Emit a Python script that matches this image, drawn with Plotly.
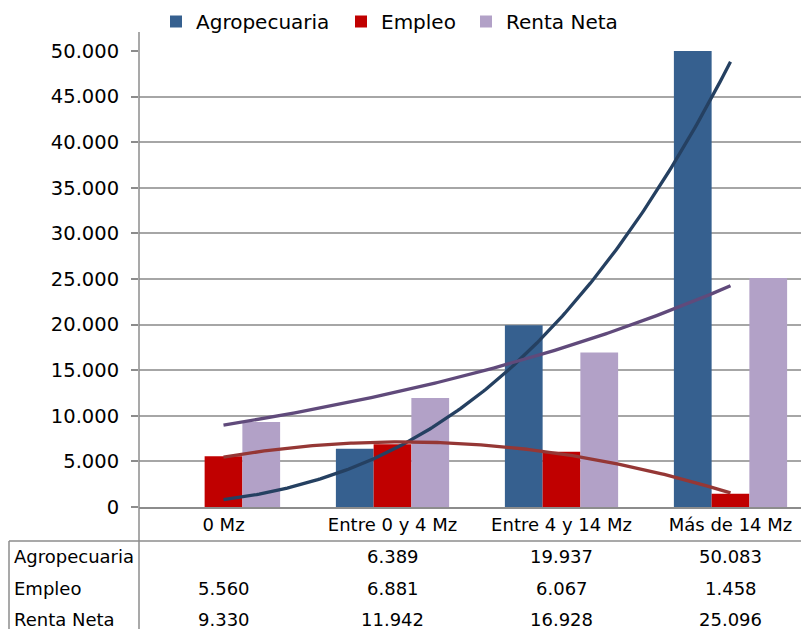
import numpy as np
import plotly.graph_objects as go

# Datos por tamaño de finca
categorias = ["0 Mz", "Entre 0 y 4 Mz", "Entre 4 y 14 Mz", "Más de 14 Mz"]
agropecuaria = [None, 6389, 19937, 50083]
empleo = [5560, 6881, 6067, 1458]
renta_neta = [9330, 11942, 16928, 25096]

series = [
    ("Agropecuaria", agropecuaria, "#36608F"),
    ("Empleo", empleo, "#C00000"),
    ("Renta Neta", renta_neta, "#B2A1C7"),
]

W, H = 801, 629
PL, PR, PT, PB = 139, 801, 51, 507   # plot area in pixels


def px_x(p):
    return (p - PL) / (PR - PL)


def px_y(p):
    return (PB - p) / (PB - PT)


pos = np.arange(len(categorias))
fig = go.Figure()

legend_ids = ["legend", "legend2", "legend3"]
for (name, vals, color), lid in zip(series, legend_ids):
    fig.add_trace(go.Bar(
        x=pos, y=[np.nan if v is None else v for v in vals], name=name,
        marker=dict(color=color, line=dict(width=0)), legend=lid,
    ))

# Trend lines (Excel style: power, polynomial order 2, exponential), x = 1..4
xs = np.linspace(1, 4, 200)

xa = np.array([i + 1 for i, v in enumerate(agropecuaria) if v is not None], float)
ya = np.array([v for v in agropecuaria if v is not None], float)
b, a = np.polyfit(np.log(xa), np.log(ya), 1)
trend_agro = np.exp(a) * xs ** b

ce = np.polyfit(pos + 1, np.array(empleo, float), 2)
trend_empleo = np.polyval(ce, xs)

br, ar = np.polyfit(pos + 1, np.log(np.array(renta_neta, float)), 1)
trend_renta = np.exp(ar) * np.exp(br * xs)

for ys, color in [(trend_agro, "#254061"), (trend_empleo, "#953735"),
                  (trend_renta, "#604A7B")]:
    fig.add_trace(go.Scatter(x=xs - 1, y=ys, mode="lines", showlegend=False,
                             line=dict(color=color, width=3.3), hoverinfo="skip"))

cat_w = (W - PL + 14) / 4.0
x_hi = -0.5 + (PR - PL) / cat_w


def legend_at(px):
    return dict(orientation="h", x=px_x(px), xanchor="left",
                y=px_y(2), yanchor="top", font=dict(size=20),
                bgcolor="rgba(0,0,0,0)")


fig.update_layout(
    width=W, height=H,
    margin=dict(l=PL, r=W - PR, t=PT, b=H - PB),
    paper_bgcolor="white", plot_bgcolor="white",
    font=dict(family="DejaVu Sans", color="black"),
    separators=",.",
    barmode="group", bargap=0.33, bargroupgap=0,
    showlegend=True,
    legend=legend_at(156),
    legend2=legend_at(341),
    legend3=legend_at(466),
    xaxis=dict(range=[-0.5, x_hi], tickvals=list(pos), ticktext=categorias,
               showgrid=False, zeroline=False, showline=True,
               linecolor="#8c8c8c", linewidth=1.5, ticks="",
               tickfont=dict(size=18), ticklabelstandoff=1),
    yaxis=dict(range=[0, 50000], dtick=5000, tickformat=",d",
               showgrid=True, gridcolor="#a6a6a6", gridwidth=1.5,
               zeroline=False, showline=False, ticks="outside", ticklen=7,
               tickcolor="#8c8c8c", tickwidth=1.5,
               tickfont=dict(size=19.5), ticklabelstandoff=8),
)

line_style = dict(color="#8c8c8c", width=1.5)
shapes = [
    # vertical axis line, continued through the data table
    dict(type="line", xref="paper", yref="paper", x0=0, x1=0,
         y0=px_y(H), y1=px_y(32), line=line_style),
    # data table top border
    dict(type="line", xref="paper", yref="paper", x0=px_x(9), x1=1,
         y0=px_y(541), y1=px_y(541), line=line_style),
    # data table left border
    dict(type="line", xref="paper", yref="paper", x0=px_x(9), x1=px_x(9),
         y0=px_y(541), y1=px_y(H), line=line_style),
]
fig.update_layout(shapes=shapes)


def fmt(v):
    return "" if v is None else f"{v:,}".replace(",", ".")


row_y = [556, 588, 619]
annotations = []
for (name, vals, _), ry in zip(series, row_y):
    annotations.append(dict(xref="paper", yref="paper", x=px_x(12), y=px_y(ry),
                            text=name, showarrow=False, xanchor="left",
                            yanchor="middle", font=dict(size=18)))
    for i, v in enumerate(vals):
        annotations.append(dict(xref="x", yref="paper", x=i, y=px_y(ry),
                                text=fmt(v), showarrow=False, xanchor="center",
                                yanchor="middle", font=dict(size=18)))
fig.update_layout(annotations=annotations)

fig.write_html("out.html")
